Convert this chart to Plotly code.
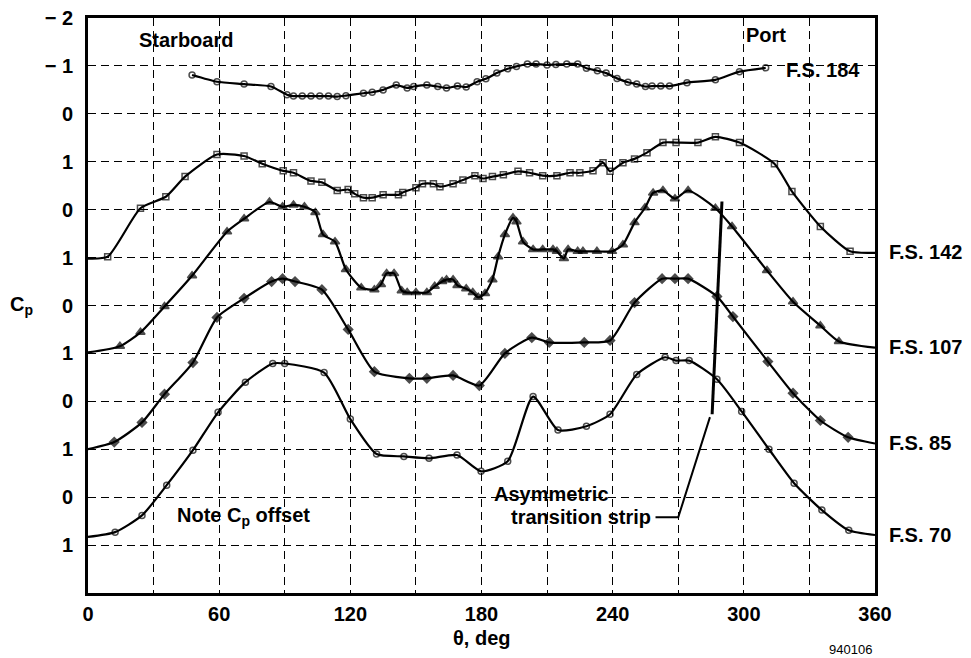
import plotly.graph_objects as go

# Cp distributions around the forebody, each station plotted with its own Cp offset
theta_184 = [47.6, 59, 71.4, 83.7, 91, 94, 98, 102, 106, 110, 114, 118, 126, 130, 135, 141, 146, 149,
             155, 160, 164, 169, 173, 178, 182, 187, 192, 196, 201, 205, 210, 214, 219, 224, 228, 233,
             237, 242, 247, 251, 255, 258, 262, 266, 274, 287, 298, 310]
cp_184 = [-0.81, -0.67, -0.62, -0.57, -0.40, -0.37, -0.37, -0.37, -0.37, -0.37, -0.36, -0.38, -0.43,
          -0.45, -0.50, -0.60, -0.54, -0.57, -0.60, -0.57, -0.54, -0.58, -0.56, -0.67, -0.73, -0.85,
          -0.94, -0.99, -1.04, -1.04, -1.02, -1.03, -1.04, -1.04, -0.95, -0.90, -0.85, -0.74, -0.66,
          -0.62, -0.57, -0.58, -0.58, -0.58, -0.65, -0.71, -0.88, -0.96]

theta_142 = [0, 9, 24, 35.6, 44.4, 59, 71.4, 79.7, 89.3, 94, 102, 107, 114, 119, 122, 126, 130, 135,
             142, 144, 150, 153, 158, 161, 167, 171.5, 177, 180.7, 185, 190, 196.7, 202, 208, 214.5,
             220.5, 225, 231, 235.6, 238.8, 244.7, 250, 255.7, 263, 269, 279, 287, 298, 314, 322, 335,
             348.6, 360]
cp_142 = [1.02, 0.98, -0.03, -0.27, -0.69, -1.15, -1.12, -0.96, -0.81, -0.77, -0.60, -0.57, -0.40,
          -0.42, -0.33, -0.25, -0.25, -0.31, -0.31, -0.36, -0.46, -0.54, -0.54, -0.48, -0.54, -0.62,
          -0.71, -0.65, -0.69, -0.73, -0.80, -0.77, -0.71, -0.71, -0.77, -0.77, -0.81, -0.98, -0.80,
          -0.98, -1.06, -1.19, -1.40, -1.40, -1.40, -1.52, -1.40, -0.96, -0.38, 0.35, 0.87, 0.90]

theta_107 = [0, 14.6, 24, 35, 47.6, 63.6, 71.4, 83, 89, 94, 99, 104, 107.5, 113, 118, 125, 131, 134,
             136.6, 140, 143.5, 146, 150, 155, 158.6, 162, 164, 167, 169, 173, 176, 178.5, 181.6, 185,
             187.6, 190.7, 194.4, 196, 199, 203.6, 208, 212.7, 214.5, 217.7, 219.6, 224, 226.4, 232.8,
             239.7, 244.7, 250, 254.8, 258.5, 263, 268.5, 274.5, 287, 294.6, 310.6, 322.5, 335, 343.5, 360]
cp_107 = [0.98, 0.85, 0.56, 0.02, -0.62, -1.54, -1.81, -2.16, -2.06, -2.10, -2.06, -1.94, -1.48, -1.33,
          -0.75, -0.37, -0.33, -0.44, -0.67, -0.67, -0.31, -0.27, -0.27, -0.27, -0.40, -0.50, -0.54,
          -0.54, -0.42, -0.35, -0.27, -0.17, -0.25, -0.54, -1.02, -1.48, -1.83, -1.75, -1.33, -1.17,
          -1.17, -1.17, -1.13, -0.98, -1.17, -1.13, -1.13, -1.13, -1.13, -1.27, -1.73, -2.04, -2.35,
          -2.40, -2.23, -2.40, -2.03, -1.65, -0.73, -0.08, 0.42, 0.75, 0.88]

theta_85 = [0, 12, 24.7, 35, 48, 59, 71.4, 84, 89, 94.7, 107, 119, 131, 147, 155, 167, 179, 190.7, 203,
            211, 227, 238.8, 250, 262.6, 268.5, 274.5, 287.7, 295, 311, 322.5, 335, 347.7, 360]
cp_85 = [1.00, 0.85, 0.44, -0.15, -0.81, -1.75, -2.15, -2.50, -2.56, -2.50, -2.33, -1.50, -0.62, -0.48,
         -0.48, -0.54, -0.33, -1.00, -1.33, -1.23, -1.23, -1.27, -2.06, -2.56, -2.56, -2.56, -2.19,
         -1.77, -0.83, -0.17, 0.40, 0.75, 0.88]

theta_70 = [0, 12.4, 24.7, 36, 48, 59.5, 72, 84.5, 90, 108, 120, 132, 144.5, 156, 168.8, 179.8, 192,
            203.6, 215, 228, 238.8, 251, 264, 269, 275, 287.7, 299, 311.5, 323, 335.7, 348, 360]
cp_70 = [0.83, 0.73, 0.38, -0.25, -0.98, -1.77, -2.40, -2.79, -2.79, -2.60, -1.63, -0.90, -0.85, -0.81,
         -0.88, -0.54, -0.75, -2.10, -1.40, -1.48, -1.73, -2.56, -2.92, -2.85, -2.85, -2.46, -1.79,
         -1.00, -0.29, 0.27, 0.69, 0.79]

stations = ["F.S. 184", "F.S. 142", "F.S. 107", "F.S. 85", "F.S. 70"]
offsets = [2, 4, 6, 8, 10]
y_ticktext = ["\u2212 2", "\u2212 1", "0", "1", "0", "1", "0", "1", "0", "1", "0", "1"]
x_ticks = [0, 60, 120, 180, 240, 300, 360]

series = [(theta_184, cp_184, "circle-open", 6),
          (theta_142, cp_142, "square-open", 6),
          (theta_107, cp_107, "triangle-up", 8),
          (theta_85, cp_85, "diamond", 7),
          (theta_70, cp_70, "circle-open", 6)]

FONT = "Liberation Sans"
DASH = "8px,5px"
fig = go.Figure()

for (th, cp, sym, ms), off, name in zip(series, offsets, stations):
    sizes = [0 if t in (0, 360) else ms for t in th]
    fig.add_trace(go.Scatter(
        x=th, y=[c + off for c in cp], mode="lines+markers", name=name,
        line=dict(color="black", width=2.2, shape="spline", smoothing=0.6),
        marker=dict(symbol=sym, size=sizes, color="black", line=dict(color="black", width=1.5)),
        showlegend=False))

# transition strip + leader
fig.add_shape(type="line", x0=290, y0=3.83, x1=285.5, y1=8.27, line=dict(color="black", width=3))
fig.add_shape(type="path", path="M 284.5 8.33 L 270 10.42 L 259.6 10.42",
              line=dict(color="black", width=2))

bold = dict(family=FONT, size=20, color="black", weight="bold")
ann = [
    dict(x=45, y=0.46, text="Starboard"),
    dict(x=310, y=0.35, text="Port"),
    dict(x=318.5, y=1.08, text="F.S. 184", xanchor="left"),
    dict(x=71, y=10.4, text="Note C<sub>p</sub> offset"),
    dict(x=212, y=9.94, text="Asymmetric"),
    dict(x=258.5, y=10.42, text="transition strip", xanchor="right"),
]
for a in ann:
    fig.add_annotation(xref="x", yref="y", showarrow=False, font=bold,
                       xanchor=a.get("xanchor", "center"), yanchor="middle",
                       x=a["x"], y=a["y"], text=a["text"])

for name, yy in zip(stations[1:], [4.875, 6.875, 8.875, 10.79]):
    fig.add_annotation(xref="paper", yref="y", x=1.015, y=yy, text=name, showarrow=False,
                       xanchor="left", yanchor="middle", font=bold)

fig.add_annotation(xref="paper", yref="y", x=-0.084, y=6.0, text="C<sub>p</sub>", showarrow=False,
                   xanchor="center", yanchor="middle", font=bold)
fig.add_annotation(xref="paper", yref="paper", x=0.5, y=-0.078, text="θ, deg", showarrow=False,
                   xanchor="center", yanchor="middle", font=bold)
fig.add_annotation(xref="paper", yref="paper", x=0.9695, y=-0.099, text="940106", showarrow=False,
                   xanchor="center", yanchor="middle",
                   font=dict(family=FONT, size=13, color="black"))

fig.update_xaxes(range=[0, 360], tickvals=x_ticks, showgrid=True, gridcolor="black", gridwidth=1.2,
                 griddash=DASH, minor=dict(dtick=30, showgrid=True, gridcolor="black",
                                           gridwidth=1.2, griddash=DASH),
                 showline=True, linecolor="black", linewidth=3, mirror=True, ticks="",
                 ticklabelstandoff=1, tickfont=bold, zeroline=False, ticklabeloverflow="allow")
fig.update_yaxes(range=[12, 0], tickvals=list(range(12)), ticktext=y_ticktext, showgrid=True,
                 gridcolor="black", gridwidth=1.2, griddash=DASH,
                 showline=True, linecolor="black", linewidth=3, mirror=True, ticks="",
                 ticklabelstandoff=8, tickfont=bold, zeroline=False, ticklabeloverflow="allow")

# page body adds an 8px margin, so the figure is offset by 8px inside the window
fig.update_layout(width=963, height=650, margin=dict(l=80, r=96, t=10, b=65, autoexpand=False),
                  plot_bgcolor="white", paper_bgcolor="white", font=dict(family=FONT))

fig.write_html("out.html")
